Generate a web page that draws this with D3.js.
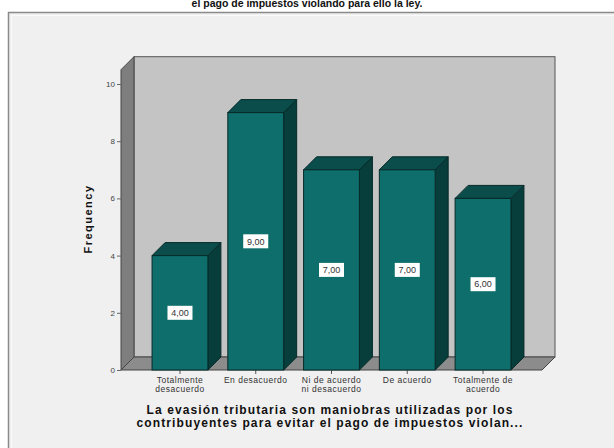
<!DOCTYPE html>
<html>
<head>
<meta charset="utf-8">
<script src="https://cdn.jsdelivr.net/npm/d3@7"></script>
<style>
  html, body { margin: 0; padding: 0; background: #ffffff; }
  svg { display: block; }
  text { font-family: "Liberation Sans", Arial, sans-serif; }
</style>
</head>
<body>
<svg id="chart" width="614" height="448"></svg>
<script>
// Response categories and their frequencies
const categories = [
  ["Totalmente", "desacuerdo"],
  ["En desacuerdo"],
  ["Ni de acuerdo", "ni desacuerdo"],
  ["De acuerdo"],
  ["Totalmente de", "acuerdo"]
];
const frequencies = [4, 9, 7, 7, 6];
const valueLabels = ["4,00", "9,00", "7,00", "7,00", "6,00"];
const yTicks = [0, 2, 4, 6, 8, 10];

const titleText = "el pago de impuestos violando para ello la ley.";
const xTitleLines = [
  "La evasión tributaria son maniobras utilizadas por los",
  "contribuyentes para evitar el pago de impuestos violan..."
];
const yTitle = "Frequency";

const svg = d3.select("#chart");

// Outer panel
svg.append("rect").attr("x", 0).attr("y", 0).attr("width", 614).attr("height", 448).attr("fill", "#ffffff");
svg.append("rect").attr("x", 8.5).attr("y", 12.5).attr("width", 620).attr("height", 450)
  .attr("fill", "#f0f0f0").attr("stroke", "#8a8a8a").attr("stroke-width", 1.5);
svg.append("rect").attr("x", 11.5).attr("y", 15.5).attr("width", 620).attr("height", 450)
  .attr("fill", "none").attr("stroke", "#fafafa").attr("stroke-width", 1);

// Title (its first line sits above the frame)
svg.append("text").attr("x", 307).attr("y", 7).attr("text-anchor", "middle")
  .attr("font-size", 10.5).attr("font-weight", "bold").attr("fill", "#111").text(titleText);

// Scales
const x0 = 121, x1 = 542;
const depth = 13;
const x = d3.scaleBand().domain(d3.range(categories.length)).range([x0, x1])
  .paddingInner(0.263).paddingOuter(0.41);
const y = d3.scaleLinear().domain([0, 10]).range([370, 84]);
const yTop = 10.5;

const g = svg.append("g");

// Back wall
g.append("rect").attr("x", x0 + depth).attr("y", y(yTop) - depth)
  .attr("width", x1 - x0).attr("height", y(0) - y(yTop))
  .attr("fill", "#c4c4c4").attr("stroke", "#555").attr("stroke-width", 1);

// Left wall
g.append("path").attr("d", `M${x0},${y(0)}L${x0},${y(yTop)}L${x0 + depth},${y(yTop) - depth}L${x0 + depth},${y(0) - depth}Z`)
  .attr("fill", "#7e7e7e").attr("stroke", "#444").attr("stroke-width", 1);

// Floor
g.append("path").attr("d", `M${x0},${y(0)}L${x1},${y(0)}L${x1 + depth},${y(0) - depth}L${x0 + depth},${y(0) - depth}Z`)
  .attr("fill", "#8c8c8c").attr("stroke", "#444").attr("stroke-width", 1);

// Y axis
const yAxis = d3.axisLeft(y).tickValues(yTicks).tickSize(4).tickPadding(2).tickFormat(d3.format("d"));
const ya = g.append("g").attr("transform", `translate(${x0},0)`).call(yAxis);
ya.select(".domain").remove();
ya.selectAll("line").attr("stroke", "#666");
ya.selectAll("text").attr("font-size", 8).attr("fill", "#444").attr("font-family", "Liberation Sans, Arial, sans-serif");

// X axis ticks and labels
const xa = g.append("g");
categories.forEach((c, i) => {
  const cx = x(i) + x.bandwidth() / 2;
  xa.append("line").attr("x1", cx).attr("x2", cx).attr("y1", y(0)).attr("y2", y(0) + 4).attr("stroke", "#555");
  const t = xa.append("text").attr("x", cx).attr("y", y(0) + 13).attr("text-anchor", "middle")
    .attr("font-size", 8.5).attr("letter-spacing", 0.5).attr("fill", "#333");
  c.forEach((line, k) => {
    t.append("tspan").attr("x", cx).attr("dy", k === 0 ? 0 : 9).text(line);
  });
});

// Bars with depth
const bars = g.selectAll(".bar").data(frequencies).join("g").attr("class", "bar");
bars.append("path").attr("d", (d, i) => {
  const bx = x(i) + x.bandwidth(), by = y(d);
  return `M${bx},${y(0)}L${bx},${by}L${bx + depth},${by - depth}L${bx + depth},${y(0) - depth}Z`;
}).attr("fill", "#073d3b").attr("stroke", "#062a29").attr("stroke-width", 1);
bars.append("path").attr("d", (d, i) => {
  const bx = x(i), by = y(d), w = x.bandwidth();
  return `M${bx},${by}L${bx + depth},${by - depth}L${bx + w + depth},${by - depth}L${bx + w},${by}Z`;
}).attr("fill", "#0b4d4b").attr("stroke", "#062a29").attr("stroke-width", 1);
bars.append("rect").attr("x", (d, i) => x(i)).attr("y", d => y(d))
  .attr("width", x.bandwidth()).attr("height", d => y(0) - y(d))
  .attr("fill", "#0e6e6b").attr("stroke", "#062a29").attr("stroke-width", 1);

// Value labels at mid-height
bars.each(function (d, i) {
  const cx = x(i) + x.bandwidth() / 2;
  const cy = y(d / 2);
  const sel = d3.select(this);
  sel.append("rect").attr("x", cx - 12.5).attr("y", cy - 7).attr("width", 25).attr("height", 14)
    .attr("fill", "#ffffff");
  sel.append("text").attr("x", cx).attr("y", cy + 3.2).attr("text-anchor", "middle")
    .attr("font-size", 9).attr("fill", "#333").text(valueLabels[i]);
});

// Axis titles
svg.append("text").attr("transform", "translate(92,219) rotate(-90)").attr("text-anchor", "middle")
  .attr("font-size", 11).attr("letter-spacing", 1.5).attr("font-weight", "bold").attr("fill", "#111").text(yTitle);

const xt = svg.append("text").attr("x", 330).attr("y", 414).attr("text-anchor", "middle")
  .attr("font-size", 12).attr("letter-spacing", 1.1).attr("font-weight", "bold").attr("fill", "#111");
xTitleLines.forEach((line, k) => {
  xt.append("tspan").attr("x", 330).attr("dy", k === 0 ? 0 : 12.5).text(line);
});
</script>
</body>
</html>
